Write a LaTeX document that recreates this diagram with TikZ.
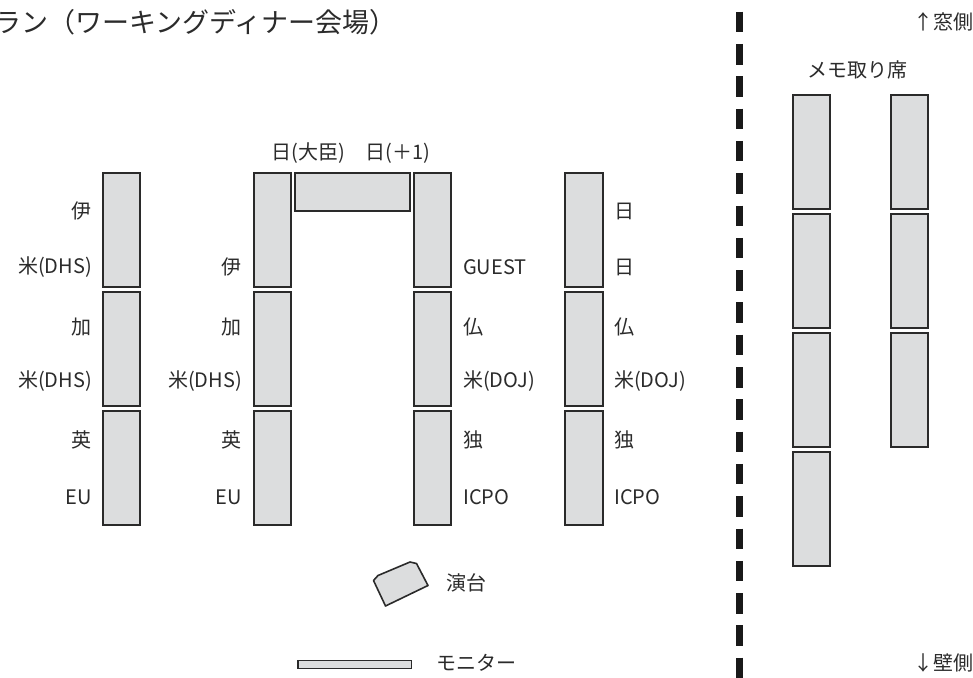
\documentclass[tikz,border=0pt]{standalone}
\usepackage{fontspec}
\setmainfont{Noto Sans CJK JP}
\usepackage{xcolor}
\usepackage{tikz}
\usetikzlibrary{positioning,calc}
\definecolor{tableGray}{HTML}{DCDDDE}
\definecolor{edgeGray}{HTML}{2A2A2A}
\definecolor{textGray}{HTML}{2B2B2B}

\begin{document}
\begin{tikzpicture}[x = 1pt, y = -1pt,
  desk/.style = {draw = edgeGray, fill = tableGray, line width = 1.6pt, inner sep = 0pt,
                 minimum width = 37.5pt, minimum height = 113.5pt},
  lbl/.style = {text = textGray, inner sep = 0pt, font = \fontsize{20}{20}\selectfont},
  lblL/.style = {lbl, anchor = east},
  lblR/.style = {lbl, anchor = west}]
\useasboundingbox (0, 0) rectangle (973, 677);
\clip (0, 0) rectangle (973, 677);

% title
\node[text = textGray, inner sep = 0pt, anchor = base west, font = \fontsize{27}{27}\selectfont]
  (title) at (-6, 33) {ラン（ワーキングディナー会場）};

% left row
\node[desk] (t11) at (121.5, 230) {};
\node[desk] (t12) at (121.5, 349) {};
\node[desk] (t13) at (121.5, 468) {};
\node[lblL] (a1) at (92, 211) {伊};
\node[lblL] (a2) at (92, 267) {米(DHS)};
\node[lblL] (a3) at (92, 327) {加};
\node[lblL] (a4) at (92, 381) {米(DHS)};
\node[lblL] (a5) at (92, 440) {英};
\node[lblL] (a6) at (92, 497) {EU};

% inner left row
\node[desk] (t21) at (272.5, 230) {};
\node[desk] (t22) at (272.5, 349) {};
\node[desk] (t23) at (272.5, 468) {};
\node[lblL] (b2) at (242, 267) {伊};
\node[lblL] (b3) at (242, 327) {加};
\node[lblL] (b4) at (242, 381) {米(DHS)};
\node[lblL] (b5) at (242, 440) {英};
\node[lblL] (b6) at (242, 497) {EU};

% head table
\node[desk, minimum width = 115pt, minimum height = 37.5pt] (head) at (352.5, 192) {};
\node[lbl] (h1) at (308, 153) {日(大臣)};
\node[lbl] (h2) at (398, 153) {日(＋1)};

% inner right row
\node[desk] (t31) at (432.5, 230) {};
\node[desk] (t32) at (432.5, 349) {};
\node[desk] (t33) at (432.5, 468) {};
\node[lblR] (c2) at (463, 267) {GUEST};
\node[lblR] (c3) at (463, 327) {仏};
\node[lblR] (c4) at (463, 381) {米(DOJ)};
\node[lblR] (c5) at (463, 440) {独};
\node[lblR] (c6) at (463, 497) {ICPO};

% right row
\node[desk] (t41) at (584, 230) {};
\node[desk] (t42) at (584, 349) {};
\node[desk] (t43) at (584, 468) {};
\node[lblR] (d1) at (614, 211) {日};
\node[lblR] (d2) at (614, 267) {日};
\node[lblR] (d3) at (614, 327) {仏};
\node[lblR] (d4) at (614, 381) {米(DOJ)};
\node[lblR] (d5) at (614, 440) {独};
\node[lblR] (d6) at (614, 497) {ICPO};

% podium and monitor
\draw[draw = edgeGray, fill = tableGray, line width = 1.6pt, line join = round]
  (373.5, 580.5) -- (378, 575.5) -- (410, 562) -- (416.5, 563.5) -- (428, 585.5) -- (385.5, 606) -- cycle;
\node[lblR] (podium) at (446, 583) {演台};
\node[desk, minimum width = 113.5pt, minimum height = 8pt] (monitor) at (354.8, 664.6) {};
\node[lblR] (mon) at (436, 663) {モニター};

% partition
\coordinate (wtop) at (739, 11.7);
\coordinate (wbot) at (739, 680);
\draw[line width = 7pt, black!90, dash pattern = on 20.5pt off 11.8pt] (wtop) -- (wbot);

% note-taker seats
\node[lbl] (memo) at (857, 70) {メモ取り席};
\node[desk] (m11) at (811.5, 152) {};
\node[desk] (m12) at (811.5, 271) {};
\node[desk] (m13) at (811.5, 390) {};
\node[desk] (m14) at (811.5, 509) {};
\node[desk] (m21) at (909.5, 152) {};
\node[desk] (m22) at (909.5, 271) {};
\node[desk] (m23) at (909.5, 390) {};
\node[lblR] (win) at (913, 21.5) {↑窓側};
\node[lblR] (wall) at (913, 663) {↓壁側};

\end{tikzpicture}
\end{document}
